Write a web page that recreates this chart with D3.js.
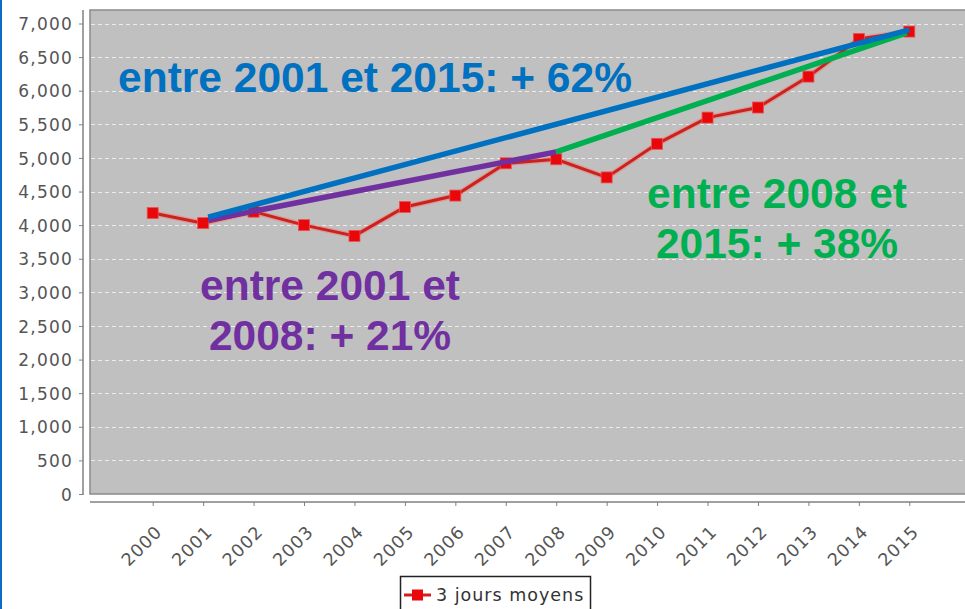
<!DOCTYPE html>
<html>
<head>
<meta charset="utf-8">
<script src="https://cdn.jsdelivr.net/npm/d3@7"></script>
<style>
  html, body { margin: 0; padding: 0; background: #fff; }
  svg { display: block; }
</style>
</head>
<body>
<svg id="chart" width="965" height="609"></svg>
<script>
// Yearly series: "3 jours moyens"
const years = [2000, 2001, 2002, 2003, 2004, 2005, 2006, 2007, 2008, 2009, 2010, 2011, 2012, 2013, 2014, 2015];
const values = [4180, 4030, 4200, 4000, 3840, 4270, 4440, 4920, 4980, 4710, 5210, 5600, 5750, 6210, 6770, 6880];
const yTicks = [0, 500, 1000, 1500, 2000, 2500, 3000, 3500, 4000, 4500, 5000, 5500, 6000, 6500, 7000];
const seriesName = "3 jours moyens";

// Trend segments drawn over the series: [startYear, startValue, endYear, endValue]
const trendBlue = [2001.1, 4120, 2015, 6905];
const trendPurple = [2001.1, 4075, 2008, 5090];
const trendGreen = [2008, 5090, 2014.95, 6860];

// Annotation texts
const noteBlue = ["entre 2001 et 2015: + 62%"];
const noteGreen = ["entre 2008 et", "2015: + 38%"];
const notePurple = ["entre 2001 et", "2008: + 21%"];

const svg = d3.select("#chart");
const W = 965, H = 609;

const plot = { left: 90, top: 10, right: 972, bottom: 494 };

const x = d3.scaleLinear().domain([2000, 2015]).range([152.7, 909.3]);
const y = d3.scaleLinear().domain([0, 7000]).range([494, 23.5]);

// left frame stripe
svg.append("rect").attr("x", 0).attr("y", 0).attr("width", 2).attr("height", H).attr("fill", "#0a6cc4");

// plot background
svg.append("rect")
  .attr("x", plot.left).attr("y", plot.top)
  .attr("width", plot.right - plot.left).attr("height", plot.bottom - plot.top)
  .attr("fill", "#c0c0c0")
  .attr("stroke", "#8a8a8a").attr("stroke-width", 1.5);

// horizontal gridlines
svg.append("g").selectAll("line").data(yTicks.filter(d => d > 0)).join("line")
  .attr("x1", plot.left + 1).attr("x2", plot.right)
  .attr("y1", d => Math.round(y(d)) + 0.5).attr("y2", d => Math.round(y(d)) + 0.5)
  .attr("stroke", "#ececec").attr("stroke-width", 1)
  .attr("stroke-dasharray", "4,3");

// y axis
const yAxis = d3.axisLeft(y).tickValues(yTicks).tickFormat(d3.format(",")).tickSize(4).tickPadding(6);
const gy = svg.append("g").attr("transform", "translate(83,0)").call(yAxis);
gy.select(".domain").attr("d", `M0,${plot.top}V${plot.bottom + 1}`).attr("stroke", "#808080").attr("stroke-width", 1.5);
gy.selectAll(".tick line").attr("stroke", "#808080");
gy.selectAll(".tick text")
  .attr("fill", "#555")
  .style("font-family", "'DejaVu Sans', Verdana, sans-serif")
  .style("font-size", "17px")
  .style("letter-spacing", "1.2px")
  .attr("dy", "0.36em");

// x axis
const xAxis = d3.axisBottom(x).tickValues(years).tickFormat(d3.format("d")).tickSize(4).tickPadding(0);
const gx = svg.append("g").attr("transform", "translate(0,502)").call(xAxis);
gx.select(".domain").attr("d", `M${plot.left},0H${W}`).attr("stroke", "#808080").attr("stroke-width", 1.5);
gx.selectAll(".tick line").attr("stroke", "#808080");
gx.selectAll(".tick text")
  .attr("fill", "#555")
  .style("font-family", "'DejaVu Sans', Verdana, sans-serif")
  .style("font-size", "17.5px")
  .style("letter-spacing", "1px")
  .attr("text-anchor", "end")
  .attr("dy", null)
  .attr("y", null)
  .attr("transform", "translate(10,31) rotate(-45)");

// data series
const pts = years.map((yr, i) => [yr, values[i]]);
const line = d3.line().x(d => x(d[0])).y(d => y(d[1]));
svg.append("path").datum(pts)
  .attr("d", line).attr("fill", "none")
  .attr("stroke", "#f08080").attr("stroke-opacity", 0.6).attr("stroke-width", 5.5);
svg.append("path").datum(pts)
  .attr("d", line).attr("fill", "none")
  .attr("stroke", "#c8231c").attr("stroke-width", 3);
svg.append("g").selectAll("rect").data(pts).join("rect")
  .attr("x", d => x(d[0]) - 5.5).attr("y", d => y(d[1]) - 5.5)
  .attr("width", 11).attr("height", 11)
  .attr("fill", "#e8070a").attr("stroke", "#f05050").attr("stroke-width", 0.8);

// trend segments
function seg(t, color) {
  svg.append("line")
    .attr("x1", x(t[0])).attr("y1", y(t[1]))
    .attr("x2", x(t[2])).attr("y2", y(t[3]))
    .attr("stroke", color).attr("stroke-width", 5.5);
}
seg(trendPurple, "#7030a0");
seg(trendGreen, "#00b050");
seg(trendBlue, "#0070c0");

// annotations
function note(lines, cx, y0, color, lh) {
  const t = svg.append("text")
    .attr("fill", color)
    .attr("text-anchor", "middle")
    .style("font-family", "'Liberation Sans', Arial, sans-serif")
    .style("font-weight", "bold")
    .style("font-size", "42.5px");
  lines.forEach((s, i) => t.append("tspan").attr("x", cx).attr("y", y0 + i * lh).text(s));
}
note(noteBlue, 375, 92, "#0070c0", 50);
note(noteGreen, 777, 208, "#00b050", 50);
note(notePurple, 330, 300, "#7030a0", 50);

// legend
const lg = svg.append("g");
lg.append("rect").attr("x", 400.5).attr("y", 576.5).attr("width", 190).attr("height", 40)
  .attr("fill", "#fff").attr("stroke", "#222").attr("stroke-width", 1.5);
lg.append("line").attr("x1", 404).attr("x2", 431).attr("y1", 595).attr("y2", 595)
  .attr("stroke", "#d0201a").attr("stroke-width", 3);
lg.append("rect").attr("x", 412).attr("y", 589.5).attr("width", 11).attr("height", 11).attr("fill", "#e8070a");
lg.append("text").attr("x", 436).attr("y", 601)
  .attr("fill", "#333")
  .style("font-family", "'DejaVu Sans', Verdana, sans-serif")
  .style("font-size", "17.5px")
  .style("letter-spacing", "1px")
  .text(seriesName);
</script>
</body>
</html>
